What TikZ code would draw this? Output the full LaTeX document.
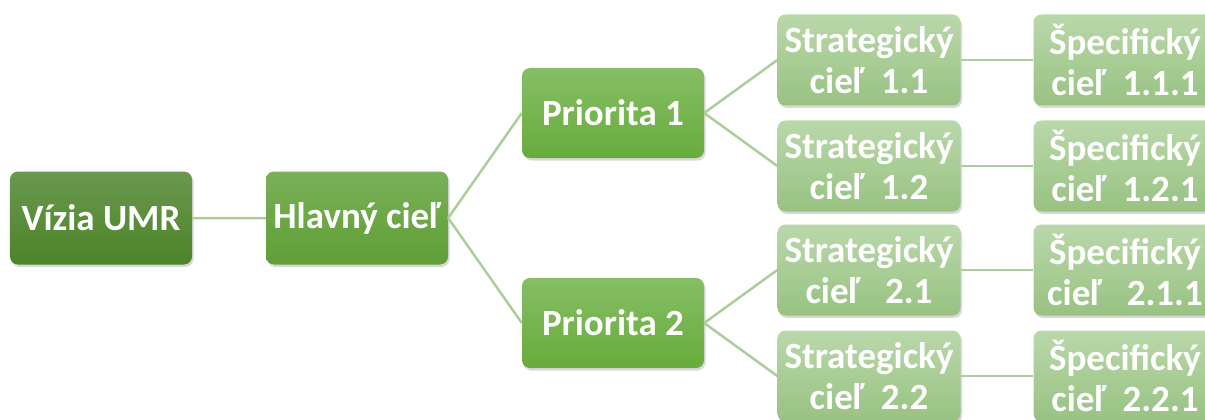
\documentclass[tikz,border=0pt]{standalone}
\usepackage{fontspec}
\setmainfont{Carlito}
\usetikzlibrary{trees,shadows}

\definecolor{visiontop}{RGB}{106,152,78}
\definecolor{visionbot}{RGB}{76,132,40}
\definecolor{goaltop}{RGB}{122,176,88}
\definecolor{goalbot}{RGB}{96,158,54}
\definecolor{priotop}{RGB}{134,190,100}
\definecolor{priobot}{RGB}{104,172,60}
\definecolor{strattop}{RGB}{186,216,170}
\definecolor{stratbot}{RGB}{152,194,130}
\definecolor{linkgreen}{RGB}{172,206,154}

\begin{document}
\begin{tikzpicture}[x=1bp, y=1bp,
    every node/.style = {shape=rectangle, rounded corners=8bp, align=center, text=white,
        font=\fontsize{37bp}{41bp}\selectfont\bfseries,
        minimum width=182bp, minimum height=91bp, inner sep=0pt,
        drop shadow={opacity=0.3, shadow xshift=1.5bp, shadow yshift=-2.5bp}},
    vision/.style = {top color=visiontop, bottom color=visionbot, minimum height=93bp},
    goal/.style = {top color=goaltop, bottom color=goalbot, minimum height=93bp},
    prio/.style = {top color=priotop, bottom color=priobot, minimum height=90bp},
    stratbox/.style = {top color=strattop, bottom color=stratbot, minimum width=183bp},
    grow'=right, level distance=256bp,
    level 2/.style={sibling distance=210bp},
    level 3/.style={sibling distance=106bp},
    parent anchor=east, child anchor=west,
    edge from parent/.style={draw=linkgreen, line width=2.5bp}]
    \useasboundingbox (0,0) rectangle (1205,419);
    \node[vision] (vizia) at (101,201) {Vízia UMR}
        child { node[goal] (hlavny) {Hlavný cieľ}
            child { node[prio] (prio1) {Priorita 1}
                child { node[stratbox] (sc11) {Strategický\\cieľ~~1.1}
                    child { node[stratbox] (spc111) {Špecifický\\cieľ~~1.1.1}}}
                child { node[stratbox] (sc12) {Strategický\\cieľ~~1.2}
                    child { node[stratbox] (spc121) {Špecifický\\cieľ~~1.2.1}}}}
            child { node[prio] (prio2) {Priorita 2}
                child { node[stratbox] (sc21) {Strategický\\cieľ~~~2.1}
                    child { node[stratbox] (spc211) {Špecifický\\cieľ~~~2.1.1}}}
                child { node[stratbox] (sc22) {Strategický\\cieľ~~2.2}
                    child { node[stratbox] (spc221) {Špecifický\\cieľ~~2.2.1}}}}};
\end{tikzpicture}
\end{document}
